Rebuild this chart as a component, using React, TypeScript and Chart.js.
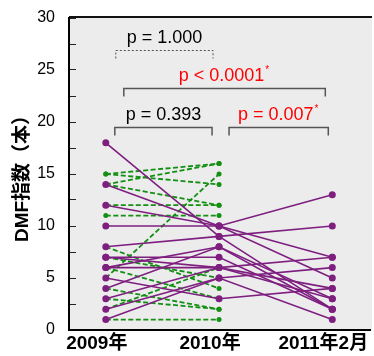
import React, { useEffect, useRef } from 'react';
import { Chart, registerables } from 'chart.js';

Chart.register(...registerables);

// ---- data ----
const categories = ['2009年', '2010年', '2011年2月'];
const yTitle = 'DMF指数（本）';

// purple group (solid lines): one entry per subject
const purple2009 = [18, 14, 12, 10, 8, 7, 7, 6, 6, 5, 4, 3, 2, 1];
const purple2010 = [9, 10, 10, 10, 9, 6, 7, 8, 6, 3, 8, 6, 5, 5];
const purple2011 = [2, 7, 13, 5, 10, 3, 2, 2, 7, 4, 3, 4, 6, 1];

// green group (dashed lines): one entry per subject
const green2009 = [15, 15, 14, 14, 12, 11, 5, 8, 7, 6, 4, 3, 2, 1];
const green2010 = [16, 14, 16, 12, 12, 11, 15, 4, 5, 3, 2, 2, 6, 1];

// comparisons
const pTexts = ['p = 1.000', 'p < 0.0001', 'p = 0.393', 'p = 0.007'];
const pSignificant = [false, true, false, true];
const pFrom = [0, 0, 0, 1];
const pTo = [1, 2, 1, 2];

const FONT = "'Liberation Sans', Arial, 'Noto Sans CJK JP', sans-serif";
const PURPLE = '#7e1f80';
const GREEN = '#138f13';

const bracketStyle = [
  { level: 26.9, dx1: 10, dx2: -6, dashed: true },
  { level: 23.3, dx1: 18, dx2: -7, dashed: false },
  { level: 19.5, dx1: 9, dx2: -7, dashed: false },
  { level: 19.5, dx1: 10, dx2: -4, dashed: false },
];

const bgPlugin = {
  id: 'plotBg',
  beforeDraw(chart: any) {
    const { ctx, chartArea: a } = chart;
    ctx.save();
    ctx.fillStyle = '#ececec';
    ctx.fillRect(a.left, a.top, a.right - a.left + 2, a.bottom - a.top);
    ctx.strokeStyle = '#111';
    ctx.lineWidth = 2;
    ctx.beginPath();
    ctx.moveTo(a.left, a.top - 1);
    ctx.lineTo(a.right + 2, a.top - 1);
    ctx.stroke();
    ctx.restore();
  },
};

const bracketPlugin = {
  id: 'brackets',
  afterDraw(chart: any) {
    const { ctx } = chart;
    const xs = chart.scales.x;
    const ys = chart.scales.y;
    ctx.save();
    pTexts.forEach((txt, i) => {
      const st = bracketStyle[i];
      const x1 = xs.getPixelForValue(pFrom[i]) + st.dx1;
      const x2 = xs.getPixelForValue(pTo[i]) + st.dx2;
      const y = Math.round(ys.getPixelForValue(st.level)) + 0.5;
      ctx.beginPath();
      ctx.strokeStyle = '#555';
      ctx.lineWidth = st.dashed ? 1 : 1.5;
      ctx.setLineDash(st.dashed ? [2, 2] : []);
      ctx.moveTo(x1, y + 8);
      ctx.lineTo(x1, y);
      ctx.lineTo(x2, y);
      ctx.lineTo(x2, y + 8);
      ctx.stroke();
      ctx.setLineDash([]);

      ctx.font = `18px ${FONT}`;
      const w = ctx.measureText(txt).width;
      const astW = pSignificant[i] ? 6 : 0;
      const cx = (x1 + x2) / 2;
      const tx = cx - (w + astW) / 2;
      ctx.fillStyle = pSignificant[i] ? '#ff0000' : '#000';
      ctx.textBaseline = 'middle';
      ctx.textAlign = 'left';
      ctx.fillText(txt, tx, y - 12);
      if (pSignificant[i]) {
        ctx.font = `10px ${FONT}`;
        ctx.fillText('*', tx + w + 1, y - 18);
      }
    });
    ctx.restore();
  },
};

export default function App() {
  const ref = useRef<HTMLCanvasElement>(null);

  useEffect(() => {
    if (!ref.current) return;
    const datasets: any[] = [];
    purple2009.forEach((v, i) => {
      datasets.push({
        data: [
          { x: 0, y: v },
          { x: 1, y: purple2010[i] },
          { x: 2, y: purple2011[i] },
        ],
        borderColor: PURPLE,
        backgroundColor: PURPLE,
        borderWidth: 1.6,
        pointRadius: 3.5,
        pointBorderWidth: 0,
        order: 1,
      });
    });
    green2009.forEach((v, i) => {
      datasets.push({
        data: [
          { x: 0, y: v },
          { x: 1, y: green2010[i] },
        ],
        borderColor: GREEN,
        backgroundColor: GREEN,
        borderWidth: 1.8,
        borderDash: [5, 2.5],
        pointRadius: 2.5,
        pointBorderWidth: 0,
        order: 2,
      });
    });

    const chart = new Chart(ref.current, {
      type: 'line',
      data: { datasets },
      options: {
        animation: false,
        responsive: false,
        devicePixelRatio: 1,
        layout: { padding: { left: 0, top: 18, right: 2, bottom: 0 } },
        plugins: { legend: { display: false }, tooltip: { enabled: false } },
        scales: {
          x: {
            type: 'linear',
            min: -0.325,
            max: 2.333,
            afterBuildTicks: (s: any) => {
              s.ticks = categories.map((_, i) => ({ value: i }));
            },
            afterFit: (s: any) => {
              s.height = 26;
              s.paddingLeft = 0;
              s.paddingRight = 0;
            },
            ticks: {
              callback: (v: any) => categories[v] ?? '',
              font: { size: 19, weight: 'bold', family: FONT },
              color: '#000',
              padding: 2,
              labelOffset: -9,
              autoSkip: false,
              maxRotation: 0,
            },
            grid: { display: false, drawTicks: false },
            border: { display: true, color: '#000', width: 2 },
          },
          y: {
            type: 'linear',
            min: 0,
            max: 30,
            afterFit: (s: any) => {
              s.width = 69;
              s.paddingTop = 0;
              s.paddingBottom = 0;
            },
            ticks: {
              stepSize: 2.5,
              callback: (v: any) => (v % 5 === 0 ? String(v) : ''),
              font: { size: 16, family: FONT },
              color: '#000',
              padding: 21,
            },
            grid: { drawOnChartArea: false, drawTicks: true, tickLength: -7, color: '#222', lineWidth: 1 },
            border: { display: true, color: '#000', width: 2 },
            title: {
              display: true,
              text: yTitle,
              font: { size: 19, weight: 'bold', family: FONT },
              color: '#000',
              padding: { top: 11, bottom: 0 },
            },
          },
        },
      },
      plugins: [bgPlugin, bracketPlugin],
    });
    return () => chart.destroy();
  }, []);

  return (
    <div style={{ position: 'absolute', left: 0, top: 0, width: 374, height: 356, background: '#fff' }}>
      <canvas ref={ref} width={374} height={356} />
    </div>
  );
}
